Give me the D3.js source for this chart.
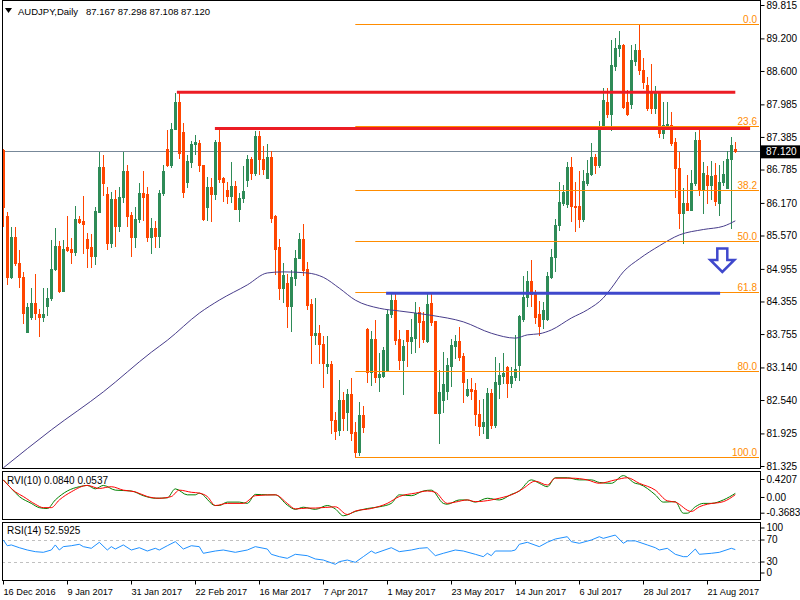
<!DOCTYPE html>
<html><head><meta charset="utf-8">
<script src="https://cdn.jsdelivr.net/npm/d3@7"></script>
<style>
html,body{margin:0;padding:0;background:#fff;}
svg{display:block;font-family:"Liberation Sans",Arial,sans-serif;}
</style></head><body>
<svg id="chart" width="800" height="600"></svg>
<script>
// ---------------- DATA ----------------
const symbolTitle = "AUDJPY,Daily";
const lastQuote = "87.167 87.298 87.108 87.120";
const openP = [87.14,85.92,84.81,85.55,85.07,84.81,83.80,84.07,84.32,84.12,
84.06,84.27,84.41,84.96,85.38,84.55,85.36,85.32,85.27,85.87,
85.84,85.50,85.36,85.20,86.01,86.83,86.33,85.44,86.24,85.75,
86.27,86.75,85.95,85.54,85.87,86.36,86.33,85.55,85.70,85.57,
86.35,87.17,86.87,87.54,88.02,87.48,86.56,86.93,87.25,87.27,
86.87,86.10,86.46,86.33,87.30,86.62,86.41,86.30,86.48,86.05,
86.26,86.60,86.97,86.73,87.40,86.98,86.63,87.02,85.92,85.35,
84.60,84.69,84.28,84.78,85.15,85.50,84.95,84.31,83.74,83.77,
83.58,83.17,83.20,82.18,81.99,82.54,82.32,82.65,81.96,81.59,
82.26,83.85,83.06,83.67,82.97,82.99,83.07,84.12,84.38,83.66,
83.28,83.83,83.63,83.68,84.17,84.00,83.63,84.33,84.00,82.31,
82.54,82.71,83.17,83.53,83.63,83.35,82.63,82.75,82.72,82.28,
82.06,81.84,82.67,82.08,82.84,82.98,83.15,82.85,82.96,83.18,
84.03,84.43,84.74,84.49,84.12,84.04,84.04,84.81,85.17,85.76,
86.17,86.15,86.84,86.11,86.11,85.87,86.53,86.70,87.01,86.87,
87.57,88.02,87.80,88.70,89.02,89.07,88.02,88.00,88.78,88.99,
88.62,88.34,88.23,87.92,88.23,87.45,87.57,87.60,87.30,86.81,
85.98,86.16,86.04,86.53,87.33,86.41,86.69,86.50,86.68,86.17,
86.55,86.44,86.98,87.167];
const highP = [87.16,86.01,85.73,85.73,85.30,84.90,84.33,84.60,84.86,84.21,
84.60,84.60,85.49,85.70,85.47,85.49,85.93,85.52,86.11,85.93,
86.30,85.61,85.60,86.10,87.10,87.05,86.47,86.38,86.41,86.47,
87.11,86.87,86.01,86.10,86.53,86.75,86.47,85.90,85.84,86.41,
86.87,87.51,87.65,88.19,88.19,87.64,87.05,87.31,87.42,87.33,
86.87,86.64,86.62,87.33,87.51,86.65,86.56,86.93,86.58,86.35,
86.85,87.05,87.02,87.49,87.49,87.22,87.25,87.13,85.95,85.51,
85.07,84.87,84.93,85.30,85.62,85.78,85.08,84.40,84.41,83.92,
83.72,83.72,83.26,82.32,82.90,82.69,82.75,82.94,82.14,82.51,
82.43,83.86,83.81,84.01,83.41,83.51,84.20,84.53,84.49,83.83,
83.65,83.83,84.03,84.35,84.26,84.17,84.49,84.49,84.00,83.09,
83.43,83.31,83.66,83.74,83.88,83.41,82.92,82.94,82.85,82.54,
82.55,82.77,82.74,83.34,83.22,83.41,83.17,83.15,83.74,84.11,
84.82,84.92,85.11,84.57,84.37,84.35,84.90,85.33,85.87,86.56,
86.50,86.93,87.02,86.56,86.76,86.78,86.96,87.28,87.07,87.67,
88.28,88.29,89.17,89.20,89.34,89.09,88.25,89.08,89.09,89.46,
88.84,88.49,88.72,88.32,88.23,88.02,88.02,87.85,87.36,87.11,
86.44,86.68,86.78,87.48,87.51,86.93,86.85,86.94,86.90,86.86,
86.94,87.13,87.39,87.298];
const lowP = [85.75,84.68,84.78,85.03,84.62,83.95,83.80,84.04,84.04,83.72,
84.00,84.11,84.38,84.93,84.53,84.55,85.29,85.06,85.21,85.80,
85.24,84.99,84.99,85.04,86.01,86.32,85.33,85.35,85.38,85.66,
86.19,85.75,85.20,85.36,85.82,85.86,85.46,85.24,85.36,85.36,
86.32,86.85,86.83,87.54,86.99,86.28,86.46,86.83,87.08,86.76,
85.86,85.86,85.84,86.25,86.55,86.21,86.16,86.19,86.05,85.84,
86.19,86.48,86.61,86.68,86.70,86.70,86.63,85.81,84.87,84.40,
84.34,83.89,83.81,84.66,85.15,84.84,84.21,83.22,83.58,83.22,
82.78,83.03,81.94,81.83,81.89,81.99,81.99,81.80,81.49,81.53,
81.96,82.88,82.82,82.88,82.71,82.97,83.07,84.06,83.58,83.11,
82.65,83.17,83.41,83.43,83.52,83.60,83.61,83.92,82.31,81.75,
82.32,82.55,82.80,83.31,83.28,82.51,82.61,82.55,82.08,81.89,
81.94,81.84,82.02,82.05,82.57,82.85,82.59,82.78,82.91,82.91,
84.00,84.27,84.27,83.95,83.74,83.86,84.02,84.78,84.92,85.68,
86.13,86.10,85.84,85.66,85.73,85.84,86.50,86.68,86.72,86.84,
87.54,87.76,87.51,88.62,88.88,87.92,87.78,87.92,88.71,88.54,
88.28,87.88,87.82,87.82,87.39,87.36,87.54,87.24,86.28,85.70,
85.43,86.04,86.04,86.50,86.32,85.98,86.16,86.25,86.13,85.95,
86.50,86.44,85.70,87.108];
const closeP = [86.10,84.81,85.55,85.06,84.80,84.15,84.25,84.32,84.14,84.07,
84.12,84.41,84.96,85.38,84.55,85.32,85.31,85.27,85.87,85.82,
85.78,85.34,85.20,86.02,86.83,86.53,85.44,86.24,85.75,86.27,
86.75,85.93,85.54,85.87,86.36,86.28,85.55,85.70,85.57,86.35,
86.76,86.87,87.53,88.02,87.09,86.38,86.94,87.25,87.29,86.86,
85.87,86.47,86.33,87.29,86.61,86.56,86.30,86.48,86.05,86.26,
86.39,86.98,86.73,87.40,86.98,86.79,87.02,85.90,85.33,84.61,
84.84,84.28,84.81,85.15,85.50,84.93,84.29,83.74,83.78,83.58,
83.23,83.20,82.17,81.97,82.54,82.20,82.65,81.94,81.59,82.26,
82.05,83.06,83.67,82.97,83.02,83.46,84.12,84.38,83.64,83.28,
83.54,83.63,83.70,84.15,83.98,83.66,84.31,83.98,82.31,82.69,
82.84,83.18,83.55,83.63,83.34,82.88,82.74,82.71,82.28,82.06,
82.14,82.67,82.08,82.88,83.00,83.04,82.86,82.98,83.12,84.09,
84.43,84.74,84.49,84.06,83.90,84.20,84.82,85.18,85.76,86.19,
86.38,86.84,86.11,86.09,85.87,86.58,86.73,87.02,86.87,87.51,
88.07,87.80,88.71,89.03,89.07,87.94,87.80,88.80,88.99,88.62,
88.40,87.92,87.92,88.23,87.45,87.60,87.62,87.27,86.81,85.98,
86.16,86.04,86.53,87.33,86.41,86.72,86.50,86.66,86.20,86.56,
86.71,86.98,87.24,87.120];

// moving average (read at sample bars)
const maIdx = [0,12,25,37,41,49,54,61,66,70,76,80,84,88,94,99,107,115,122,128,131,134,137,142,146,150,152,155,159,164,169,175,180,183];
const maVal = [81.29,81.99,82.69,83.42,83.64,84.14,84.38,84.66,84.88,84.90,84.88,84.80,84.60,84.38,84.23,84.18,84.10,83.98,83.77,83.68,83.74,83.76,83.83,84.05,84.20,84.42,84.60,84.90,85.14,85.38,85.58,85.68,85.74,85.84];

// RVI(10): main (green) and signal (red)
const rviMainIdx = [0,2,4,7,9,11,13,16,19,21,23,25,28,32,35,38,41,43,46,48,49,53,54,56,59,61,63,66,68,71,73,75,78,81,83,85,88,91,94,97,99,102,105,107,110,111,114,116,118,121,124,127,129,132,134,136,138,141,144,147,149,152,155,158,159,163,165,168,170,171,173,175,177,180,183];
const rviMainVal = [0.40,0.20,0.01,-0.15,-0.25,-0.27,-0.07,0.14,0.24,0.27,0.19,0.27,0.16,0.14,0.03,-0.03,-0.02,0.19,0.05,0.05,0.09,-0.20,-0.20,-0.12,-0.12,-0.15,0.06,0.05,0.05,-0.19,-0.29,-0.24,-0.29,-0.20,-0.28,-0.44,-0.34,-0.27,-0.23,-0.15,0.05,0.03,0.14,0.16,-0.15,-0.17,-0.07,-0.07,-0.12,-0.03,-0.07,0.06,0.14,0.40,0.32,0.24,0.45,0.45,0.40,0.40,0.34,0.32,0.50,0.32,0.30,0.05,-0.12,-0.11,-0.38,-0.38,-0.23,-0.15,-0.15,-0.07,0.084];
const rviSigIdx = [0,3,5,8,10,12,14,17,21,24,27,30,33,36,39,42,44,47,49,51,53,56,60,63,68,71,73,76,78,83,86,88,92,96,99,103,106,108,111,113,116,118,122,124,128,130,133,136,138,142,146,149,153,156,159,163,166,168,172,174,176,180,183];
const rviSigVal = [0.40,0.12,0.01,-0.17,-0.25,-0.25,-0.07,0.12,0.27,0.20,0.24,0.16,0.12,0.01,-0.03,0.01,0.16,0.11,0.09,0.01,-0.20,-0.15,-0.15,0.03,0.05,-0.15,-0.28,-0.26,-0.26,-0.23,-0.41,-0.33,-0.27,-0.15,0.01,0.09,0.14,0.11,-0.15,-0.12,-0.07,-0.11,-0.07,-0.03,0.09,0.20,0.37,0.28,0.44,0.44,0.40,0.32,0.40,0.45,0.32,0.16,-0.09,-0.12,-0.34,-0.23,-0.17,-0.11,0.054];

// RSI(14)
const rsiIdx = [0,1,2,4,6,8,10,12,13,14,15,17,19,20,22,24,26,27,28,30,32,34,36,38,39,41,43,45,47,49,50,53,55,58,61,63,66,67,69,71,73,76,78,80,83,84,86,88,90,92,93,97,99,102,104,106,108,110,113,115,118,120,121,122,123,127,128,129,131,134,136,138,141,142,144,147,149,150,153,155,156,158,161,163,164,166,168,170,171,173,174,177,179,182,183];
const rsiVal = [70,59.6,61,56,51.8,48.8,47.6,51.8,61,51.8,57.9,59.6,62.2,57.9,54.9,65.8,51.8,57.9,53.6,61,51.8,56,50,54.9,51.8,59.6,67,53.6,59.6,57.9,45.8,50,51.8,47.6,51.8,57.9,53.6,44,39.7,36.7,44,41.5,35.5,33.6,25.8,30.6,33.6,29.4,39.7,50,45.8,56,48.8,51.8,54.9,56,41.5,45.8,51.8,50,44,39.7,45.8,41.5,50,50,51.8,62.2,65.8,57.9,65.8,71.8,76,67,64,70,76,73,79,64,68.4,68.4,61,56,51.8,54.9,44,39.7,39.7,53.6,44,45.8,47.6,54.9,52.59];

// axes
const priceTicks = [89.815,89.200,88.600,87.985,87.385,86.785,86.170,85.570,84.955,84.355,83.755,83.140,82.540,81.925,81.325];
const rviTicks = [0.4207,0,-0.3683];
const rviTickText = ["0.4207","0.00","-0.3683"];
const rsiTicks = [100,70,30,0];
const rsiLevels = [70,30];
const dateIdx = [0,16,32,48,64,80,96,112,128,144,160,176];
const dateLabels = ["16 Dec 2016","9 Jan 2017","31 Jan 2017","22 Feb 2017","16 Mar 2017","7 Apr 2017","1 May 2017","23 May 2017","14 Jun 2017","6 Jul 2017","28 Jul 2017","21 Aug 2017"];

// drawn objects
const fibHigh = 89.465, fibLow = 81.485, fibStartIdx = 88, fibEndIdx = 189;
const fibLevels = [0,23.6,38.2,50,61.8,80,100];
const fibText = ["0.0","23.6","38.2","50.0","61.8","80.0","100.0"];
const redLevels = [88.21, 87.54], redFrom = [43.4, 52.9], redTo = [183, 186.7];
const blueLevel = 84.505, blueFrom = 95.7, blueTo = 179.2;
const arrowIdx = 179.75, arrowTop = 85.33, arrowNeck = 85.12, arrowTip = 84.90;
const currentPrice = 87.120;

// ---------------- DRAWING ----------------
const svg = d3.select("#chart");
const L = 2, R = 760;
const mainTop = 0, mainBot = 468, rviTop = 471, rviBot = 519, rsiTop = 522, rsiBot = 580;
const x = d3.scaleLinear().domain([0,183]).range([3.3,735.3]);
const y = d3.scaleLinear().domain([81.325,89.815]).range([466,5]);
const yR = d3.scaleLinear().domain([-0.3683,0.4207]).range([512.7,479]);
const yS = d3.scaleLinear().domain([0,100]).range([578.5,523.5]);
const BULL = "#2E8B57", BEAR = "#FF4500", FIB = "#FF8C00";

svg.append("rect").attr("width",800).attr("height",600).attr("fill","#fff");
const defs = svg.append("defs");
[["cMain",mainTop,mainBot],["cRvi",rviTop,rviBot],["cRsi",rsiTop,rsiBot]].forEach(([id,t,b])=>{
  defs.append("clipPath").attr("id",id).append("rect").attr("x",L+1).attr("y",t+1).attr("width",R-L-1).attr("height",b-t-1);
});

// ---- main panel
const gMain = svg.append("g").attr("clip-path","url(#cMain)");
gMain.append("line").attr("x1",L).attr("x2",R).attr("y1",Math.round(y(currentPrice))+0.5).attr("y2",Math.round(y(currentPrice))+0.5)
  .attr("stroke","#778899").attr("stroke-width",1);

// candles
const bars = d3.range(openP.length);
const cg = gMain.append("g");
bars.forEach(i=>{
  const cx = Math.round(x(i));
  const col = closeP[i] >= openP[i] ? BULL : BEAR;
  cg.append("line").attr("x1",cx+0.5).attr("x2",cx+0.5)
    .attr("y1",Math.round(y(highP[i]))).attr("y2",Math.round(y(lowP[i]))+1)
    .attr("stroke",col).attr("stroke-width",1);
  const t = Math.round(y(Math.max(openP[i],closeP[i])));
  const b = Math.round(y(Math.min(openP[i],closeP[i])));
  cg.append("rect").attr("x",cx-1).attr("width",3).attr("y",t).attr("height",Math.max(1,b-t+1)).attr("fill",col);
});

// moving average
gMain.append("path").datum(maIdx.map((d,k)=>[d,maVal[k]]))
  .attr("d",d3.line().x(d=>x(d[0])).y(d=>y(d[1])).curve(d3.curveMonotoneX))
  .attr("fill","none").attr("stroke","#483D8B").attr("stroke-width",1);

// fibonacci
const fibG = svg.append("g");
fibLevels.forEach((lv,k)=>{
  const p = fibHigh - (fibHigh-fibLow)*lv/100;
  const yy = Math.round(y(p))+0.5;
  fibG.append("line").attr("x1",x(fibStartIdx)).attr("x2",R-1).attr("y1",yy).attr("y2",yy)
    .attr("stroke",FIB).attr("stroke-width",1);
  fibG.append("text").attr("x",757).attr("y",yy-2).attr("text-anchor","end")
    .attr("font-size",10).attr("fill",FIB).text(fibText[k]);
});

// red resistance lines
redLevels.forEach((p,k)=>{
  svg.append("line").attr("x1",x(redFrom[k])).attr("x2",x(redTo[k])).attr("y1",y(p)).attr("y2",y(p))
    .attr("stroke","#EC1C24").attr("stroke-width",3);
});
// blue line
svg.append("line").attr("x1",x(blueFrom)).attr("x2",x(blueTo)).attr("y1",y(blueLevel)).attr("y2",y(blueLevel))
  .attr("stroke","#3F48CC").attr("stroke-width",3);
// hollow arrow
{
  const ax = x(arrowIdx), yt = y(arrowTop), yn = y(arrowNeck), yp = y(arrowTip);
  const pts = [[ax-5,yt],[ax+5,yt],[ax+5,yn],[ax+12,yn],[ax,yp],[ax-12,yn],[ax-5,yn]];
  svg.append("path").attr("d","M"+pts.map(p=>p.join(",")).join("L")+"Z")
    .attr("fill","#fff").attr("stroke","#3F48CC").attr("stroke-width",2.5).attr("stroke-linejoin","miter");
}

// ---- RVI panel
const gR = svg.append("g").attr("clip-path","url(#cRvi)");
gR.append("path").datum(rviMainIdx.map((d,k)=>[d,rviMainVal[k]]))
  .attr("d",d3.line().x(d=>x(d[0])).y(d=>yR(d[1])).curve(d3.curveMonotoneX))
  .attr("fill","none").attr("stroke","#008000").attr("stroke-width",1);
gR.append("path").datum(rviSigIdx.map((d,k)=>[d,rviSigVal[k]]))
  .attr("d",d3.line().x(d=>x(d[0])).y(d=>yR(d[1])).curve(d3.curveMonotoneX))
  .attr("fill","none").attr("stroke","#FF0000").attr("stroke-width",1);

// ---- RSI panel
const gS = svg.append("g").attr("clip-path","url(#cRsi)");
rsiLevels.forEach(v=>{
  gS.append("line").attr("x1",L).attr("x2",R).attr("y1",Math.round(yS(v))+0.5).attr("y2",Math.round(yS(v))+0.5)
    .attr("stroke","#C0C0C0").attr("stroke-dasharray","3,3");
});
gS.append("path").datum(rsiIdx.map((d,k)=>[d,rsiVal[k]]))
  .attr("d",d3.line().x(d=>x(d[0])).y(d=>yS(d[1])))
  .attr("fill","none").attr("stroke","#1E90FF").attr("stroke-width",1);

// ---- frames
[[mainTop,mainBot],[rviTop,rviBot],[rsiTop,rsiBot]].forEach(([t,b])=>{
  svg.append("rect").attr("x",L+0.5).attr("y",t+0.5).attr("width",R-L).attr("height",b-t)
    .attr("fill","none").attr("stroke","#000").attr("stroke-width",1);
});

// ---- right axes
const axMain = svg.append("g").attr("transform",`translate(${R+0.5},0)`)
  .call(d3.axisRight(y).tickValues(priceTicks).tickFormat(d3.format(".3f")).tickSize(4).tickSizeOuter(0));
const axR = svg.append("g").attr("transform",`translate(${R+0.5},0)`)
  .call(d3.axisRight(yR).tickValues(rviTicks).tickFormat((d,k)=>rviTickText[k]).tickSize(4).tickSizeOuter(0));
const axS = svg.append("g").attr("transform",`translate(${R+0.5},0)`)
  .call(d3.axisRight(yS).tickValues(rsiTicks).tickFormat(d3.format("d")).tickSize(4).tickSizeOuter(0));
axS.selectAll(".tick").attr("transform",d=>`translate(0,${Math.min(Math.max(yS(d),rsiTop+6),rsiBot-7)})`);
[axMain,axR,axS].forEach(a=>{
  a.select(".domain").remove();
  a.selectAll("text").attr("x",6).attr("font-size",10).attr("font-family","Liberation Sans, Arial, sans-serif").attr("fill","#000");
  a.selectAll("line").attr("stroke","#000");
});

// current price box
svg.append("rect").attr("x",R+1).attr("y",y(currentPrice)-6).attr("width",800-R-1).attr("height",13).attr("fill","#000");
svg.append("text").attr("x",R+6).attr("y",y(currentPrice)+4).attr("font-size",10).attr("fill","#fff").text(d3.format(".3f")(currentPrice));

// ---- x axis
const ax = svg.append("g").attr("transform",`translate(0,${rsiBot+0.5})`)
  .call(d3.axisBottom(x).tickValues(dateIdx).tickFormat((d,k)=>dateLabels[k]).tickSize(4).tickSizeOuter(0));
ax.select(".domain").remove();
ax.selectAll(".tick").attr("transform",d=>`translate(${Math.round(x(d))+0.5},0)`);
ax.selectAll("line").attr("stroke","#000");
ax.selectAll("text").attr("text-anchor","start").attr("x",0).attr("y",8).attr("dy","0.71em")
  .attr("font-size",9.2).attr("font-family","Liberation Sans, Arial, sans-serif").attr("fill","#000");

// ---- titles
svg.append("path").attr("d","M5,8L12,8L8.5,13Z").attr("fill","#000");
svg.append("text").attr("x",18).attr("y",15).attr("font-size",9.5).attr("fill","#000").text(symbolTitle);
svg.append("text").attr("x",86).attr("y",15).attr("font-size",9.5).attr("fill","#000").text(lastQuote);
svg.append("text").attr("x",7).attr("y",484).attr("font-size",10).attr("fill","#000").text("RVI(10) 0.0840 0.0537");
svg.append("text").attr("x",7).attr("y",534).attr("font-size",10).attr("fill","#000").text("RSI(14) 52.5925");
</script>
</body></html>
